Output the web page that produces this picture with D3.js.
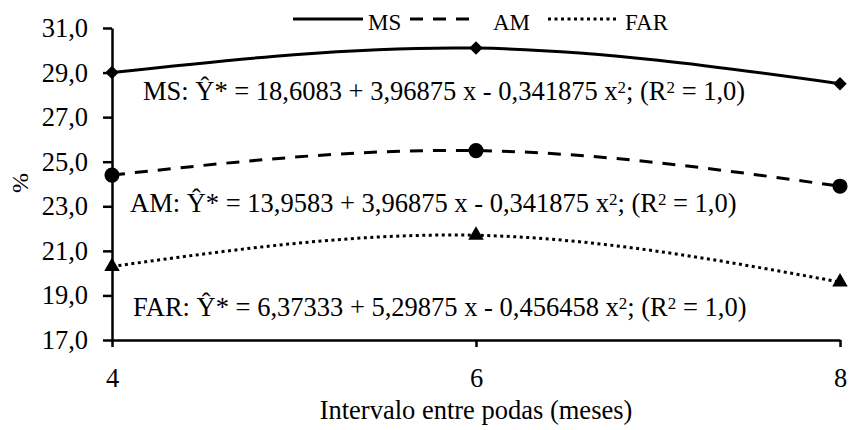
<!DOCTYPE html>
<html>
<head>
<meta charset="utf-8">
<script src="https://cdn.jsdelivr.net/npm/d3@7"></script>
<style>
  body { margin: 0; background: #fff; }
  svg text { font-family: 'Liberation Serif', 'Times New Roman', serif; fill: #000; }
</style>
</head>
<body>
<svg id="chart" width="849" height="430"></svg>
<script>

// values
var months = [4, 6, 8];
var ms_values = [29.0, 30.1, 28.5];
var am_values = [24.4, 25.5, 23.9];
var far_values = [20.3, 21.7, 19.6];

var y_ticks = [17, 19, 21, 23, 25, 27, 29, 31];
var series_names = ['MS', 'AM', 'FAR'];

// equation text, split where the superscripts go
var ms_equation = ['MS: \u0176* = 18,6083 + 3,96875 x - 0,341875 x', '2', '; (R', '2', ' = 1,0)'];
var am_equation = ['AM: \u0176* = 13,9583 + 3,96875 x - 0,341875 x', '2', '; (R', '2', ' = 1,0)'];
var far_equation = ['FAR: \u0176* = 6,37333 + 5,29875 x - 0,456458 x', '2', '; (R', '2', ' = 1,0)'];

var font_size = 26.5;

var svg = d3.select('#chart');

var x = d3.scaleLinear().domain([4, 8]).range([112, 840]);
var y = d3.scaleLinear().domain([17, 31]).range([340, 28]);

var comma = d => d3.format('.1f')(d).replace('.', ',');

var y_axis = svg.append('g')
    .attr('transform', 'translate(' + x(4) + ',0)')
    .call(d3.axisLeft(y).tickValues(y_ticks).tickFormat(comma)
          .tickSize(9).tickSizeOuter(0).tickPadding(15));

var x_axis = svg.append('g')
    .attr('transform', 'translate(0,' + y(17) + ')')
    .call(d3.axisBottom(x).tickValues(months).tickFormat(d3.format('d'))
          .tickSize(7).tickSizeOuter(0).tickPadding(21));

[x_axis, y_axis].forEach(a => {
  a.attr('font-family', null).attr('font-size', font_size);
  a.selectAll('path, line').attr('stroke', '#000').attr('stroke-width', 2.5);
  a.selectAll('text').attr('fill', '#000');
});

// axis titles
svg.append('text')
    .attr('x', 476)
    .attr('y', 419)
    .attr('text-anchor', 'middle')
    .attr('font-size', font_size)
    .text('Intervalo entre podas (meses)');

svg.append('text')
    .attr('transform', 'translate(28,183) rotate(-90)')
    .attr('text-anchor', 'middle')
    .attr('font-size', 24)
    .text('%');

// series
var styles = {
  MS:  {values: ms_values,  dash: null,    marker: 'diamond'},
  AM:  {values: am_values,  dash: '13,10', marker: 'circle'},
  FAR: {values: far_values, dash: '3,3.5', marker: 'triangle'}
};

var line = d3.line()
    .curve(d3.curveNatural)
    .x(d => x(d[0]))
    .y(d => y(d[1]));

var symbols = {
  diamond:  d3.symbol().type(d3.symbolSquare).size(90),
  circle:   d3.symbol().type(d3.symbolCircle).size(180),
  triangle: d3.symbol().type(d3.symbolTriangle).size(105)
};

series_names.forEach(name => {
  var s = styles[name];
  var pts = months.map((m, i) => [m, s.values[i]]);

  svg.append('path')
      .datum(pts)
      .attr('fill', 'none')
      .attr('stroke', '#000')
      .attr('stroke-width', 3)
      .attr('stroke-dasharray', s.dash)
      .attr('d', line);

  svg.selectAll(null)
      .data(pts)
      .enter()
      .append('path')
      .attr('transform', d => 'translate(' + x(d[0]) + ',' + y(d[1]) + ')' +
            (s.marker == 'diamond' ? ' rotate(45)' : ''))
      .attr('fill', '#000')
      .attr('d', symbols[s.marker]);
});

// legend
var legend = [
  {name: 'MS',  x1: 293, x2: 363, tx: 368},
  {name: 'AM',  x1: 410, x2: 472, tx: 493},
  {name: 'FAR', x1: 548, x2: 617, tx: 625}
];

legend.forEach(l => {
  svg.append('line')
      .attr('x1', l.x1).attr('x2', l.x2)
      .attr('y1', 19).attr('y2', 19)
      .attr('stroke', '#000')
      .attr('stroke-width', 3)
      .attr('stroke-dasharray', styles[l.name].dash);

  svg.append('text')
      .attr('x', l.tx)
      .attr('y', 30)
      .attr('font-size', 23)
      .text(l.name);
});

// regression equations
function draw_equation(parts, tx, ty)
{
  var t = svg.append('text')
      .attr('x', tx)
      .attr('y', ty)
      .attr('font-size', font_size);

  parts.forEach((p, i) => {
    var span = t.append('tspan').text(p);
    if (i % 2 == 1)
    {
      span.attr('font-size', 17).attr('baseline-shift', '40%');
    }
  });
}

draw_equation(ms_equation, 143, 100);
draw_equation(am_equation, 130, 212);
draw_equation(far_equation, 133, 316);

</script>
</body>
</html>
